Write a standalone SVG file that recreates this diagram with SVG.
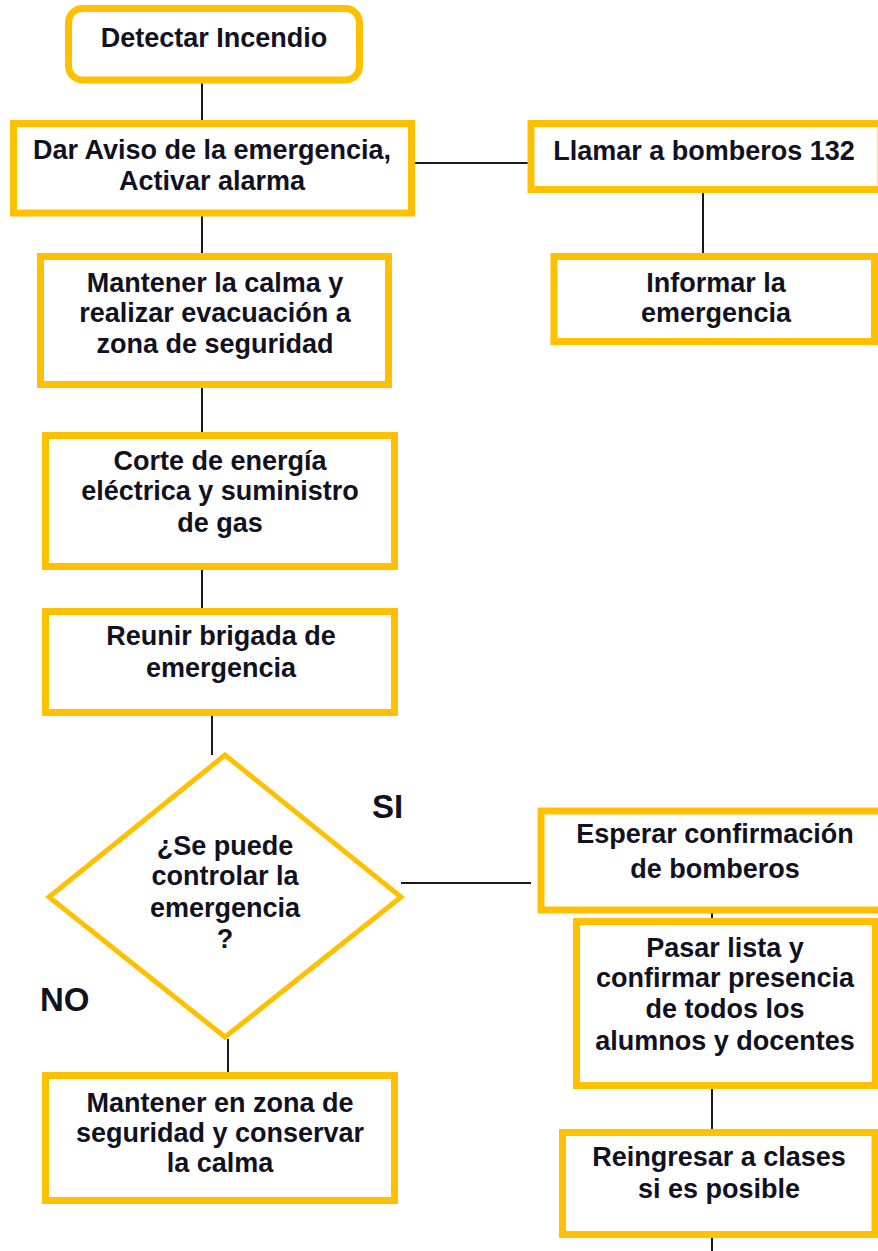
<svg xmlns="http://www.w3.org/2000/svg" width="878" height="1251" viewBox="0 0 878 1251">
<style>
.box{fill:#fff;stroke:#FFC000;stroke-width:7}
.dia{fill:#fff;stroke:#FFC000;stroke-width:5;stroke-linejoin:miter}
.t{font-family:"Liberation Sans",Arial,sans-serif;font-weight:bold;font-size:27px;fill:#111122;text-anchor:middle}
.lbl{font-family:"Liberation Sans",Arial,sans-serif;font-weight:bold;font-size:33px;fill:#111122}
.c{stroke:#1a1a1a;stroke-width:2;fill:none}
</style>
<rect width="878" height="1251" fill="#fff"/>
<g id="connectors">
<line class="c" x1="202" y1="80" x2="202" y2="123"/>
<line class="c" x1="412" y1="163" x2="531" y2="163"/>
<line class="c" x1="703" y1="193" x2="703" y2="257"/>
<line class="c" x1="202" y1="213" x2="202" y2="256"/>
<line class="c" x1="202" y1="385" x2="202" y2="435"/>
<line class="c" x1="202" y1="567" x2="202" y2="611"/>
<line class="c" x1="212" y1="713" x2="212" y2="755"/>
<line class="c" x1="401" y1="883" x2="531" y2="883"/>
<line class="c" x1="712" y1="890" x2="712" y2="922"/>
<line class="c" x1="712" y1="1086" x2="712" y2="1133"/>
<line class="c" x1="712" y1="1235" x2="712" y2="1251"/>
<line class="c" x1="228" y1="1039" x2="228" y2="1076"/>
</g>
<g id="n1">
<rect class="box" x="68.5" y="8.5" width="291" height="71.5" rx="14"/>
<text class="t" x="214" y="47">Detectar Incendio</text>
</g>
<g id="n2">
<rect class="box" x="13.5" y="123.5" width="398" height="89.5"/>
<text class="t" x="212" y="159">Dar Aviso de la emergencia,</text>
<text class="t" x="212" y="190">Activar alarma</text>
</g>
<g id="n3">
<rect class="box" x="531" y="123.5" width="350" height="66"/>
<text class="t" x="704" y="160">Llamar a bomberos 132</text>
</g>
<g id="n4">
<rect class="box" x="554" y="256.5" width="320.5" height="85"/>
<text class="t" x="716" y="292">Informar la</text>
<text class="t" x="716" y="322">emergencia</text>
</g>
<g id="n5">
<rect class="box" x="40.5" y="256.5" width="348" height="128"/>
<text class="t" x="215" y="292">Mantener la calma y</text>
<text class="t" x="215" y="322">realizar evacuación a</text>
<text class="t" x="215" y="353">zona de seguridad</text>
</g>
<g id="n6">
<rect class="box" x="45.5" y="435.5" width="349" height="131"/>
<text class="t" x="220" y="470">Corte de energía</text>
<text class="t" x="220" y="500">eléctrica y suministro</text>
<text class="t" x="220" y="532">de gas</text>
</g>
<g id="n7">
<rect class="box" x="45.5" y="611.5" width="349" height="101"/>
<text class="t" x="221" y="645">Reunir brigada de</text>
<text class="t" x="221" y="677">emergencia</text>
</g>
<g id="n8">
<polygon class="dia" points="225,755 401,897 225,1037 49,897"/>
<text class="t" x="225" y="855">¿Se puede</text>
<text class="t" x="225" y="885">controlar la</text>
<text class="t" x="225" y="917">emergencia</text>
<text class="t" x="225" y="948">?</text>
</g>
<g id="lbl-si"><text class="lbl" x="372" y="818">SI</text></g>
<g id="lbl-no"><text class="lbl" x="40" y="1011">NO</text></g>
<g id="n9">
<rect class="box" x="541" y="811" width="345" height="99"/>
<text class="t" x="715" y="843">Esperar confirmación</text>
<text class="t" x="715" y="878">de bomberos</text>
</g>
<g id="n10">
<rect class="box" x="576.5" y="921.5" width="299" height="164"/>
<text class="t" x="725" y="957">Pasar lista y</text>
<text class="t" x="725" y="987">confirmar presencia</text>
<text class="t" x="725" y="1018">de todos los</text>
<text class="t" x="725" y="1050">alumnos y docentes</text>
</g>
<g id="n11">
<rect class="box" x="562.5" y="1132.5" width="312.5" height="102"/>
<text class="t" x="719" y="1166">Reingresar a clases</text>
<text class="t" x="719" y="1198">si es posible</text>
</g>
<g id="n12">
<rect class="box" x="45.5" y="1075.5" width="349" height="125"/>
<text class="t" x="220" y="1112">Mantener en zona de</text>
<text class="t" x="220" y="1142">seguridad y conservar</text>
<text class="t" x="220" y="1172">la calma</text>
</g>
</svg>
